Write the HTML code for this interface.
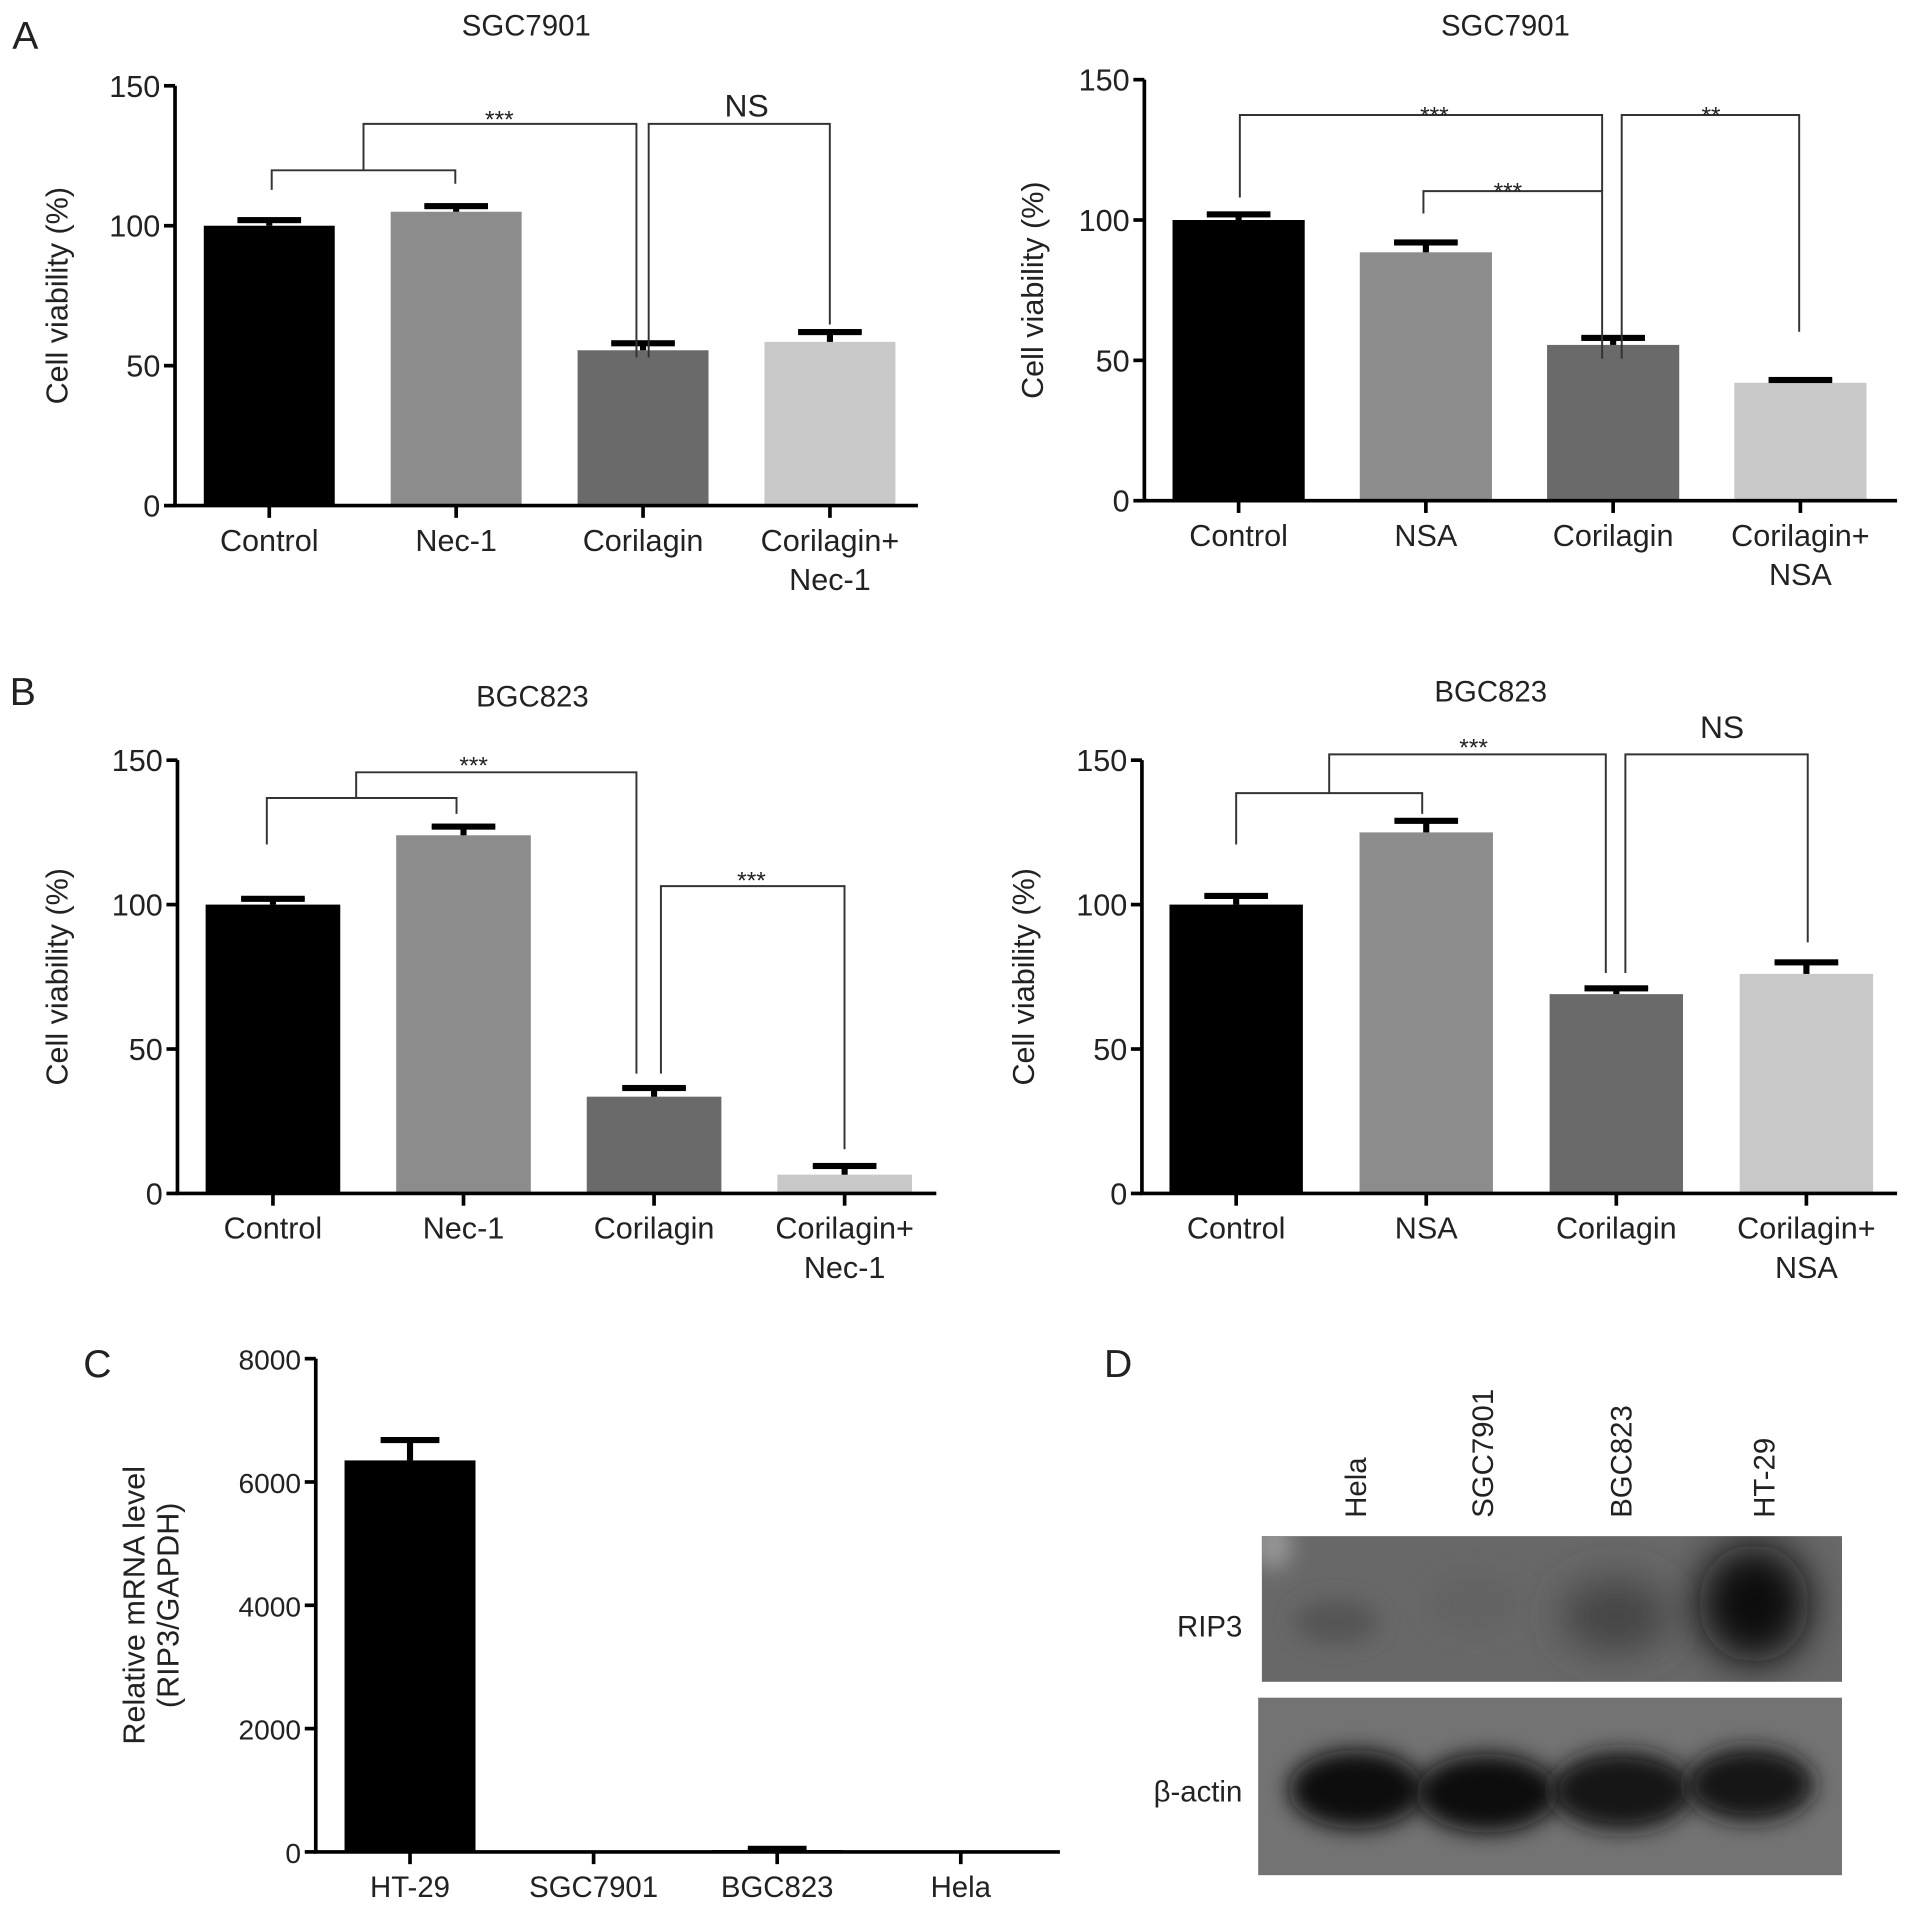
<!DOCTYPE html>
<html><head><meta charset="utf-8">
<style>
html,body{margin:0;padding:0;background:#fff;}
svg{display:block;}
text{font-family:"Liberation Sans",Arial,sans-serif;fill:#222;}
</style></head>
<body>
<svg id="fig" width="1913" height="1912" viewBox="0 0 1563 1562" xmlns="http://www.w3.org/2000/svg">
<defs>
<filter id="blur8" x="-50%" y="-50%" width="200%" height="200%"><feGaussianBlur stdDeviation="9"/></filter>
<filter id="blur14" x="-50%" y="-50%" width="200%" height="200%"><feGaussianBlur stdDeviation="16"/></filter>
<clipPath id="clipUp"><rect x="1031" y="1255" width="474" height="119"/></clipPath>
<clipPath id="clipLo"><rect x="1028" y="1387" width="477" height="145"/></clipPath>
</defs>
<g id="charts"></g>
<g id="blot">
  <rect x="1031" y="1255" width="474" height="119" fill="#686868"/>
  <g clip-path="url(#clipUp)">
    <ellipse cx="1092" cy="1325" rx="35" ry="18" fill="#555" filter="url(#blur8)"/>
    <ellipse cx="1205" cy="1310" rx="40" ry="25" fill="#636363" filter="url(#blur8)"/>
    <ellipse cx="1320" cy="1320" rx="45" ry="30" fill="#444" filter="url(#blur14)"/>
    <ellipse cx="1433" cy="1310" rx="45" ry="48" fill="#111" filter="url(#blur14)"/>
    <ellipse cx="1040" cy="1262" rx="15" ry="20" fill="#999" filter="url(#blur8)"/>
  </g>
  <rect x="1028" y="1387" width="477" height="145" fill="#737373"/>
  <g clip-path="url(#clipLo)">
    <ellipse cx="1108" cy="1462" rx="55" ry="32" fill="#111" filter="url(#blur8)"/>
    <ellipse cx="1215" cy="1465" rx="58" ry="32" fill="#111" filter="url(#blur8)"/>
    <ellipse cx="1325" cy="1463" rx="58" ry="32" fill="#131313" filter="url(#blur8)"/>
    <ellipse cx="1430" cy="1458" rx="52" ry="30" fill="#151515" filter="url(#blur8)"/>
  </g>
  <text x="1015" y="1337" font-size="24" text-anchor="end">RIP3</text>
  <text x="1015" y="1472" font-size="24" text-anchor="end">β-actin</text>
  <text transform="translate(1116,1240) rotate(-90)" font-size="24">Hela</text>
  <text transform="translate(1220,1240) rotate(-90)" font-size="24">SGC7901</text>
  <text transform="translate(1333,1240) rotate(-90)" font-size="24">BGC823</text>
  <text transform="translate(1450,1240) rotate(-90)" font-size="24">HT-29</text>
</g>
<text x="10" y="40" font-size="32">A</text>
<text x="8" y="576" font-size="32">B</text>
<text x="68" y="1125" font-size="32">C</text>
<text x="902" y="1125" font-size="32">D</text>
</svg>
<script>
// ---- data ----
const catsA1 = ["Control","Nec-1","Corilagin","Corilagin+|Nec-1"];
const valsA1 = [100, 105, 55.5, 58.5];
const errsA1 = [2, 2, 2.5, 3.5];
const catsA2 = ["Control","NSA","Corilagin","Corilagin+|NSA"];
const valsA2 = [100, 88.5, 55.5, 42];
const errsA2 = [2, 3.5, 2.5, 1];
const catsB1 = ["Control","Nec-1","Corilagin","Corilagin+|Nec-1"];
const valsB1 = [100, 124, 33.5, 6.5];
const errsB1 = [2, 3, 3, 3];
const catsB2 = ["Control","NSA","Corilagin","Corilagin+|NSA"];
const valsB2 = [100, 125, 69, 76];
const errsB2 = [3, 4, 2, 4];
const catsC = ["HT-29","SGC7901","BGC823","Hela"];
const valsC = [6350, 0, 30, 0];
const errsC = [330, 0, 20, 0];
const ticksV = [0, 50, 100, 150];
const ticksC = [0, 2000, 4000, 6000, 8000];
const barColors = ["#000000","#8c8c8c","#6a6a6a","#c8c8c8"];

const NS = "http://www.w3.org/2000/svg";
const root = document.getElementById('charts');
function el(tag, attrs, parent){
  const e = document.createElementNS(NS, tag);
  for (const k in attrs) e.setAttribute(k, attrs[k]);
  (parent||root).appendChild(e);
  return e;
}

function chart(cfg){
  const g = el('g', {});
  
  
  const y = v => cfg.y0 - (v - cfg.min) / (cfg.max - cfg.min) * (cfg.y0 - cfg.yTop);
  const x = i => cfg.x0 + cfg.step * i;
  // bars
  cfg.vals.forEach((v, i) => {
    const cx = x(i);
    const b = el('rect', {x: cx - cfg.bw/2, y: y(v), width: cfg.bw, height: Math.max(0, cfg.y0 - y(v)), fill: cfg.colors[i]}, g);
    
    
    if (cfg.errs[i] > 0) {
      const eb = el('path', {d: `M${cx},${y(v)} V${y(v + cfg.errs[i])} M${cx - cfg.cap},${y(v + cfg.errs[i])} H${cx + cfg.cap}`, stroke: '#000', 'stroke-width': 1, fill: 'none'}, g);
      
      
      const capr = el('rect', {x: cx - cfg.cap, y: y(v + cfg.errs[i]) - 2.5, width: cfg.cap*2, height: 5, fill: '#000'}, g);
      
      
      const st = el('rect', {x: cx - 2.5, y: y(v + cfg.errs[i]), width: 5, height: y(v) - y(v + cfg.errs[i]), fill: '#000'}, g);
      
      
    }
  });
  // axes
  const ax = el('path', {d: `M${cfg.ax},${cfg.yTop} V${cfg.y0} H${cfg.xEnd}`, stroke: '#000', 'stroke-width': 3, fill: 'none'}, g);
  
  
  cfg.ticks.forEach(t => {
    el('line', {x1: cfg.ax - 9, x2: cfg.ax, y1: y(t), y2: y(t), stroke: '#000', 'stroke-width': 3}, g);
    const tl = el('text', {x: cfg.ax - 12, y: y(t) + 9, 'font-size': cfg.tickFs, 'text-anchor': 'end', textLength: cfg.tickW ? cfg.tickW * String(t).length : undefined}, g);
    if (!cfg.tickW) tl.removeAttribute('textLength');
    tl.textContent = t;
    
    
  });
  cfg.cats.forEach((c, i) => {
    el('line', {x1: x(i), x2: x(i), y1: cfg.y0, y2: cfg.y0 + 10, stroke: '#000', 'stroke-width': 3}, g);
    c.split('|').forEach((line, k) => {
      const t = el('text', {x: x(i), y: cfg.y0 + 37 + k * 32, 'font-size': cfg.catFs, 'text-anchor': 'middle'}, g);
      t.textContent = line;
      
      
    });
  });
  // y title
  cfg.ytitle.forEach((line, k) => {
    const yt = el('text', {transform: `translate(${cfg.ytx + k*28},${(cfg.y0 + cfg.yTop)/2}) rotate(-90)`, 'font-size': 25, 'text-anchor': 'middle'}, g);
    yt.textContent = line;
    
    
  });
  if (cfg.title) {
    const tt = el('text', {x: cfg.titleX, y: cfg.titleY, 'font-size': 24, 'text-anchor': 'middle'}, g);
    tt.textContent = cfg.title;
    
    
  }
  // brackets: [xa, xb, yTop, yEndA, yEndB] (y in data units)
  (cfg.brackets || []).forEach(b => {
    const p = el('path', {d: `M${b[0]},${y(b[3])} V${y(b[2])} H${b[1]} V${y(b[4])}`, stroke: '#333', 'stroke-width': 1.6, fill: 'none'}, g);
    
    
  });
  (cfg.marks || []).forEach(m => {
    const t = el('text', {x: m[0], y: m[1], 'font-size': m[2] === 'NS' ? 26 : 20, 'text-anchor': 'middle'}, g);
    t.textContent = m[2];
    
    
  });
}

chart({name:'chart-a-sgc7901-nec1', cats:catsA1, vals:valsA1, errs:errsA1, colors:barColors, ticks:ticksV,
  min:0, max:150, y0:413, yTop:70, ax:143, xEnd:750, x0:220, step:152.7, bw:107, cap:26, tickFs:25, catFs:25,
  ytitle:['Cell viability (%)'], ytx:55, title:'SGC7901', titleX:430, titleY:29,
  brackets:[[222,372,119.8,112.8,115],[297,520,136.4,119.8,52.9],[530,678,136.4,52.9,64.7]],
  marks:[[408,104,'***'],[610,95,'NS']]});
chart({name:'chart-a-sgc7901-nsa', cats:catsA2, vals:valsA2, errs:errsA2, colors:barColors, ticks:ticksV,
  min:0, max:150, y0:409, yTop:65, ax:935, xEnd:1550, x0:1012, step:153, bw:108, cap:26, tickFs:25, catFs:25,
  ytitle:['Cell viability (%)'], ytx:852, title:'SGC7901', titleX:1230, titleY:29,
  brackets:[[1013,1309,137.4,108,110.3],[1163,1309,110.3,102.3,50.6],[1325,1470,137.4,50.6,60.2]],
  marks:[[1172,101,'***'],[1232,163,'***'],[1398,101,'**']]});
chart({name:'chart-b-bgc823-nec1', cats:catsB1, vals:valsB1, errs:errsB1, colors:barColors, ticks:ticksV,
  min:0, max:150, y0:975, yTop:621, ax:145, xEnd:765, x0:223, step:155.7, bw:110, cap:26, tickFs:25, catFs:25,
  ytitle:['Cell viability (%)'], ytx:55, title:'BGC823', titleX:435, titleY:577,
  brackets:[[218,373,136.9,120.8,131.4],[291,520,145.8,136.9,41.5],[540,690,106.4,41.5,15.3]],
  marks:[[387,632,'***'],[614,726,'***']]});
chart({name:'chart-b-bgc823-nsa', cats:catsB2, vals:valsB2, errs:errsB2, colors:barColors, ticks:ticksV,
  min:0, max:150, y0:975, yTop:621, ax:933, xEnd:1550, x0:1010, step:155.3, bw:109, cap:26, tickFs:25, catFs:25,
  ytitle:['Cell viability (%)'], ytx:845, title:'BGC823', titleX:1218, titleY:573,
  brackets:[[1010,1162,138.6,120.8,131.4],[1086,1312,152,138.6,76.3],[1328,1477,152,76.3,86.9]],
  marks:[[1204,617,'***'],[1407,603,'NS']]});
chart({name:'chart-c-rip3-mrna', cats:catsC, vals:valsC, errs:errsC, colors:['#000','#000','#000','#000'], ticks:ticksC,
  min:0, max:8000, y0:1513, yTop:1110, ax:258, xEnd:866, x0:335, step:150, bw:107, cap:24, tickFs:23, catFs:24,
  ytitle:['Relative mRNA level','(RIP3/GAPDH)'], ytx:118, title:null,
  brackets:[], marks:[]});
</script>
</body></html>
